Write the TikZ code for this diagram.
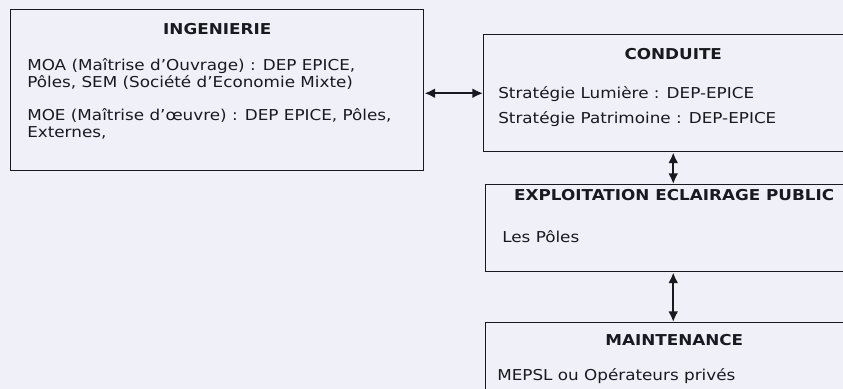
\documentclass[tikz,border=0pt]{standalone}
\usepackage{fontspec}
\setmainfont{DejaVu Sans}[FakeStretch=1.12]
\usetikzlibrary{arrows.meta, positioning, calc}
\definecolor{paper}{RGB}{240,240,248}
\definecolor{ink}{RGB}{25,25,30}

\begin{document}
\begin{tikzpicture}[
    x=0.75pt, y=-0.75pt,
    box/.style={draw=ink, line width=1.1pt, rectangle, anchor=north west, inner sep=0pt},
    head/.style={font=\fontsize{11.25}{12.75}\selectfont\bfseries, anchor=base, inner sep=0pt, text=ink},
    body/.style={font=\fontsize{11.25}{12.75}\selectfont, anchor=base west, align=left, inner sep=0pt, text=ink},
    arrow/.style={>={Latex[length=8pt, width=7.5pt]}, <->, line width=1.6pt, draw=ink}
]
    \useasboundingbox (0,0) rectangle (843,389);
    \fill[paper] (0,0) rectangle (843,389);
    \clip (0,0) rectangle (843,389);

    % Boxes
    \node[box, minimum width=309.75pt, minimum height=120.75pt] (ing) at (10,9) {};
    \node[box, minimum width=284.25pt, minimum height=87.75pt] (cond) at (483,34) {};
    \node[box, minimum width=282.75pt, minimum height=65.25pt] (expl) at (485,184) {};
    \node[box, minimum width=282.75pt, minimum height=70pt] (maint) at (485,322) {};

    % Titles
    \node[head] (ingtitle) at ($(ing.north)+(0,25)$) {INGENIERIE};
    \node[head] (condtitle) at ($(cond.north)+(0,25)$) {CONDUITE};
    \node[head] (expltitle) at ($(expl.north)+(0,16)$) {EXPLOITATION ECLAIRAGE PUBLIC};
    \node[head] (mainttitle) at ($(maint.north)+(0,23)$) {MAINTENANCE};

    % Contents (base = last line)
    \node[body] (ingtext) at ($(ing.north west)+(17,128)$)
        {MOA (Maîtrise d’Ouvrage) : DEP EPICE,\\Pôles, SEM (Société d’Economie Mixte)\\[12pt]MOE (Maîtrise d’œuvre) : DEP EPICE, Pôles,\\Externes,};
    \node[body] (condtext) at ($(cond.north west)+(15,89)$)
        {Stratégie Lumière : DEP-EPICE\\[6pt]Stratégie Patrimoine : DEP-EPICE};
    \node[body] (expltext) at ($(expl.north west)+(17,58)$) {Les Pôles};
    \node[body] (mainttext) at ($(maint.north west)+(12,58)$) {MEPSL ou Opérateurs privés};

    % Connections
    \draw[arrow] (cond.west -| ing.east) -- (cond.west);
    \draw[arrow] (cond.south) -- (cond.south |- expl.north);
    \draw[arrow] (cond.south |- expl.south) -- (cond.south |- maint.north);
\end{tikzpicture}
\end{document}
